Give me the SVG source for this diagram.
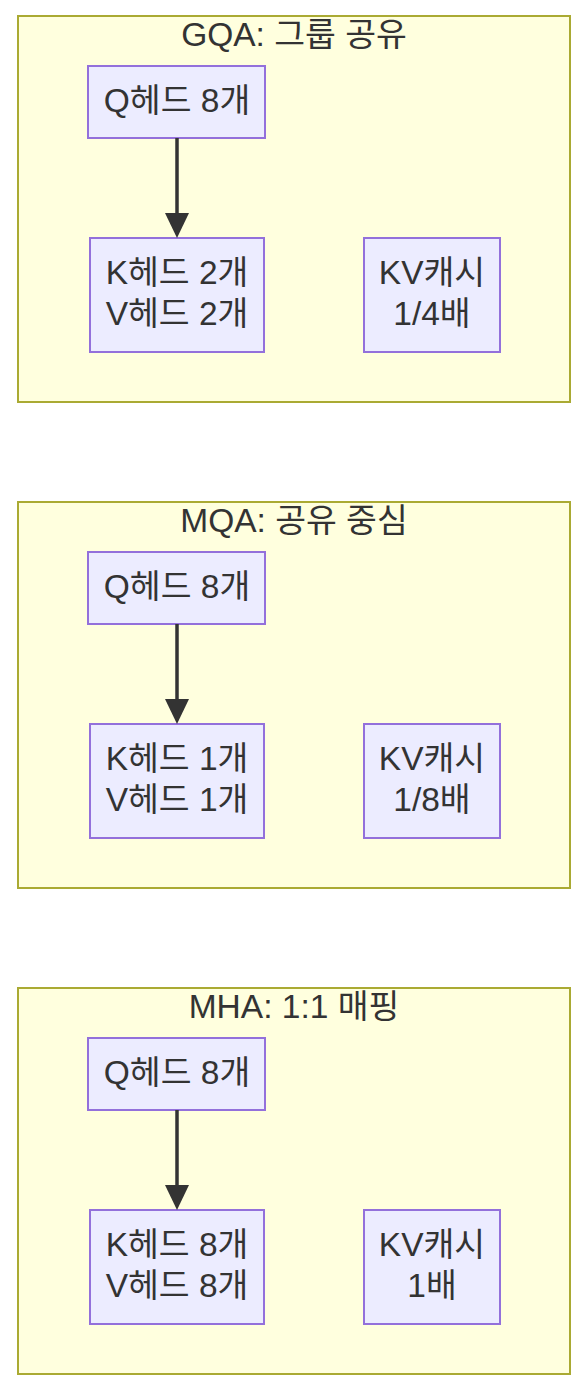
<svg xmlns="http://www.w3.org/2000/svg" width="588" height="1390" viewBox="0 0 588 1390">
<style>
.cluster{fill:#ffffde;stroke:#aaaa33;stroke-width:2}
.node{fill:#ececff;stroke:#9370db;stroke-width:2}
text{font-family:"Liberation Sans","Noto Sans CJK KR",sans-serif;font-size:33.5px;fill:#333;text-anchor:middle}
.edge{stroke:#333;stroke-width:3.5;fill:none}
.head{fill:#333}
</style>
<rect width="588" height="1390" fill="#ffffff"/>
<g id="cluster-gqa">
<rect class="cluster" x="18" y="16" width="552" height="386"/>
<text x="294" y="46">GQA: 그룹 공유</text>
</g>
<g id="gqa-q"><rect class="node" x="88" y="66" width="177" height="72"/><text x="177" y="112">Q헤드 8개</text></g>
<g id="gqa-kv"><rect class="node" x="90" y="238" width="174" height="114"/><text x="177" y="284">K헤드 2개</text><text x="177" y="325">V헤드 2개</text></g>
<g id="gqa-cache"><rect class="node" x="364" y="238" width="136" height="114"/><text x="432" y="284">KV캐시</text><text x="432" y="325">1/4배</text></g>

<g id="cluster-mqa">
<rect class="cluster" x="18" y="502" width="552" height="386"/>
<text x="294" y="532">MQA: 공유 중심</text>
</g>
<g id="mqa-q"><rect class="node" x="88" y="552" width="177" height="72"/><text x="177" y="598">Q헤드 8개</text></g>
<g id="mqa-kv"><rect class="node" x="90" y="724" width="174" height="114"/><text x="177" y="770">K헤드 1개</text><text x="177" y="811">V헤드 1개</text></g>
<g id="mqa-cache"><rect class="node" x="364" y="724" width="136" height="114"/><text x="432" y="770">KV캐시</text><text x="432" y="811">1/8배</text></g>

<g id="cluster-mha">
<rect class="cluster" x="18" y="988" width="552" height="386"/>
<text x="294" y="1018">MHA: 1:1 매핑</text>
</g>
<g id="mha-q"><rect class="node" x="88" y="1038" width="177" height="72"/><text x="177" y="1084">Q헤드 8개</text></g>
<g id="mha-kv"><rect class="node" x="90" y="1210" width="174" height="114"/><text x="177" y="1256">K헤드 8개</text><text x="177" y="1297">V헤드 8개</text></g>
<g id="mha-cache"><rect class="node" x="364" y="1210" width="136" height="114"/><text x="432" y="1256">KV캐시</text><text x="432" y="1297">1배</text></g>

<g id="connectors">
<line class="edge" x1="177" y1="138" x2="177" y2="215"/>
<polygon class="head" points="165,213 189,213 177,238"/>
<line class="edge" x1="177" y1="624" x2="177" y2="701"/>
<polygon class="head" points="165,699 189,699 177,724"/>
<line class="edge" x1="177" y1="1110" x2="177" y2="1187"/>
<polygon class="head" points="165,1185 189,1185 177,1210"/>
</g>
</svg>
